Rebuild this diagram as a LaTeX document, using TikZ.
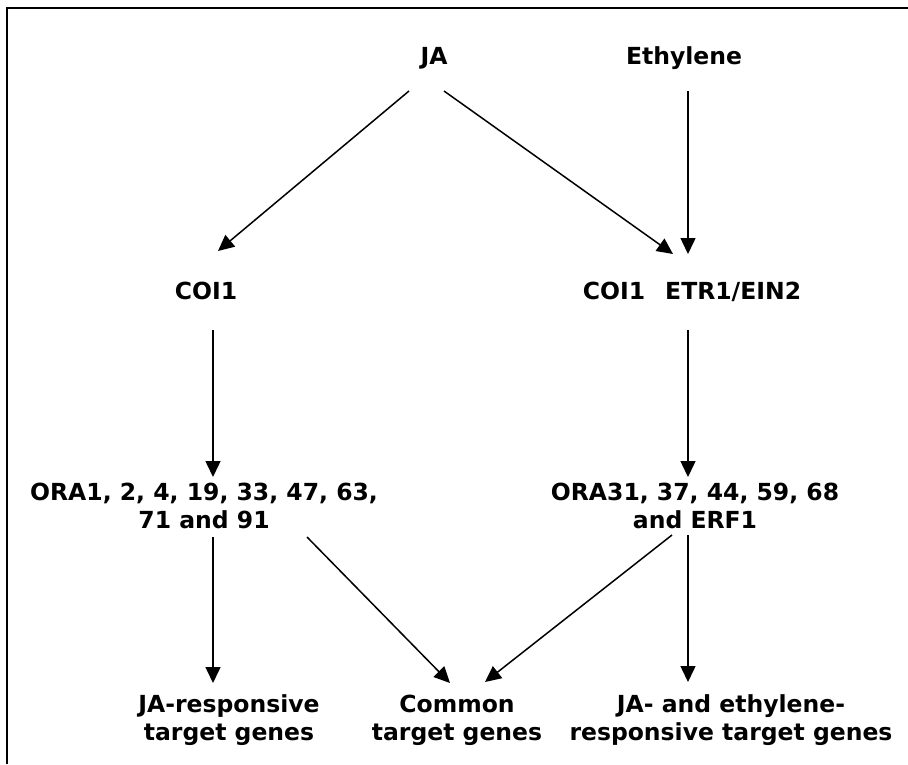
\documentclass[tikz,border=0pt]{standalone}
\usepackage{fontspec}
\setmainfont{DejaVu Sans}
\usetikzlibrary{positioning, arrows.meta, calc}

\begin{document}
\begin{tikzpicture}[x=1pt,y=-1pt]
	
	% 定义样式
	\tikzset{
		gene/.style={
			font=\bfseries\fontsize{23.5}{28}\selectfont,
			align=center, anchor=base,
			inner sep=0pt
		},
		pathway/.style={
			-{Triangle[length=16pt,width=15pt]},
			line width=1.5pt
		}
	}
	
	% 边框
	\useasboundingbox (0,0) rectangle (908,764);
	\draw[line width=2.2pt] (7,764) -- (7,8) -- (908,8);
	
	% 信号分子
	\node[gene] (ja) at (434,64) {JA};
	\node[gene] (eth) at (684,64) {Ethylene};
	
	% 受体
	\node[gene] (coiA) at (206,299) {COI1};
	\node[gene] (coiB) at (692,299) {COI1\hspace{20pt}ETR1/EIN2};
	
	% 转录因子 (base = 最后一行)
	\node[gene] (oraA) at (204,528) {ORA1, 2, 4, 19, 33, 47, 63,\\71 and 91};
	\node[gene] (oraB) at (695,528) {ORA31, 37, 44, 59, 68\\and ERF1};
	
	% 靶基因
	\node[gene] (tgtA) at (229,740) {JA-responsive\\target genes};
	\node[gene] (tgtB) at (457,740) {Common\\target genes};
	\node[gene] (tgtC) at (731,740) {JA- and ethylene-\\responsive target genes};
	
	% 箭头
	\draw[pathway] ($(ja.base)+(-25,27)$) -- ($(coiA.base)+(12,-48)$);
	\draw[pathway] ($(ja.base)+(10,27)$) -- ($(coiB.base)+(-19,-45)$);
	\draw[pathway] ($(eth.base)+(4,27)$) -- ($(coiB.base)+(-4,-45)$);
	\draw[pathway] ($(coiA.base)+(7,31)$) -- ($(oraA.base)+(9,-51)$);
	\draw[pathway] ($(coiB.base)+(-4,31)$) -- ($(oraB.base)+(-7,-51)$);
	\draw[pathway] ($(oraA.base)+(9,9)$) -- ($(tgtA.base)+(-16,-57)$);
	\draw[pathway] ($(oraA.base)+(103,9)$) -- ($(tgtB.base)+(-7,-57)$);
	\draw[pathway] ($(oraB.base)+(-23,7)$) -- ($(tgtB.base)+(28,-58)$);
	\draw[pathway] ($(oraB.base)+(-7,7)$) -- ($(tgtC.base)+(-43,-58)$);
	
\end{tikzpicture}
\end{document}
